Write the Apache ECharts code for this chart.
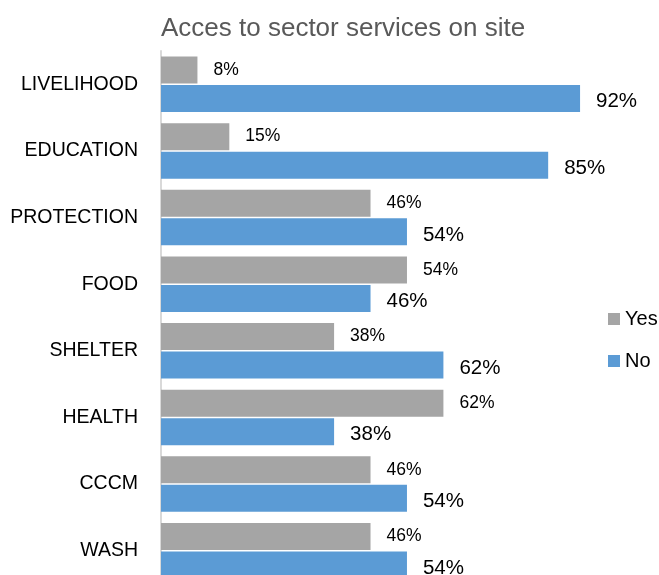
<!DOCTYPE html>
<html>
<head>
<meta charset="utf-8">
<script src="https://cdn.jsdelivr.net/npm/echarts@6/dist/echarts.min.js"></script>
<style>html,body{margin:0;padding:0;background:#fff;overflow:hidden}#c{width:659px;height:584px}</style>
</head>
<body>
<div id="c"></div>
<script>
const categories = ['LIVELIHOOD','EDUCATION','PROTECTION','FOOD','SHELTER','HEALTH','CCCM','WASH'];
const yesValues = [8, 15, 46, 54, 38, 62, 46, 46];
const noValues = [92, 85, 54, 46, 62, 38, 54, 54];
const titleText = 'Acces to sector services on site';

const FONT = '"Liberation Sans", "Noto Sans", sans-serif';
const chart = echarts.init(document.getElementById('c'));
chart.setOption({
  animation: false,
  title: {
    text: titleText, left: 156, top: 11,
    textStyle: { fontFamily: FONT, fontSize: 26, fontWeight: 'normal', color: '#595959' }
  },
  legend: {
    orient: 'vertical', left: 603, top: 304, itemGap: 22,
    itemWidth: 12, itemHeight: 12, icon: 'rect',
    textStyle: { fontFamily: FONT, fontSize: 20, color: '#000' },
    data: ['Yes', 'No']
  },
  grid: { left: 161, right: 42.5, top: 51, bottom: 0, containLabel: false },
  xAxis: {
    type: 'value', min: 0, max: 100, show: false
  },
  yAxis: {
    type: 'category', data: categories, inverse: true,
    axisLine: { show: true, lineStyle: { color: '#d9d9d9', width: 2 } },
    axisTick: { show: false },
    axisLabel: { fontFamily: FONT, fontSize: 19.5, color: '#000', margin: 23 }
  },
  series: [
    {
      name: 'Yes', type: 'bar', data: yesValues, barWidth: 27, barGap: '6%',
      itemStyle: { color: '#a5a5a5' },
      label: { show: true, position: 'right', distance: 16, formatter: '{c}%',
        fontFamily: FONT, fontSize: 17.5, color: '#000' }
    },
    {
      name: 'No', type: 'bar', data: noValues, barWidth: 27,
      itemStyle: { color: '#5b9bd5' },
      label: { show: true, position: 'right', distance: 16, formatter: '{c}%', offset: [0, 3],
        fontFamily: FONT, fontSize: 20.5, color: '#000' }
    }
  ]
});
</script>
</body>
</html>
